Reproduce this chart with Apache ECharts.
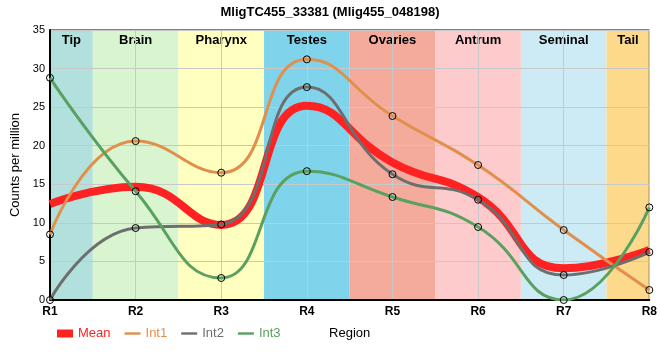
<!DOCTYPE html>
<html><head><meta charset="utf-8">
<script src="https://cdn.jsdelivr.net/npm/echarts@6/dist/echarts.min.js"></script>
<style>html,body{margin:0;padding:0;background:#fff}#c{width:660px;height:360px}</style>
</head><body><div id="c"></div>
<script>
var regions = ['R1','R2','R3','R4','R5','R6','R7','R8'];
var tissues = ['Tip','Brain','Pharynx','Testes','Ovaries','Antrum','Seminal','Tail'];
var tissueColors = ['#b2e0dd','#d9f5d0','#ffffbf','#7fd3ea','#f4ab9c','#fdcbcb','#cdebf4','#fdd98c'];
var int1 = [8.5, 20.6, 16.5, 31.2, 23.85, 17.5, 9.07, 1.3];
var int2 = [0, 9.33, 9.8, 27.6, 16.3, 13.0, 3.24, 6.2];
var int3 = [28.8, 14.1, 2.85, 16.7, 13.35, 9.46, 0, 12.0];
var meanVals = [12.43, 14.68, 9.72, 25.17, 17.83, 13.32, 4.1, 6.5];
var yTicks = [0, 35, 5];

function pts(arr){ return arr.map(function(v,i){ return [i+1, v]; }); }
var bands = tissues.map(function(t,i){
  return [{name:t, xAxis: Math.max(1, i+0.5), itemStyle:{color:tissueColors[i]}}, {xAxis: Math.min(8, i+1.5)}];
});
var chart = echarts.init(document.getElementById('c'));
var markerStyle = {color:'rgba(0,0,0,0)', borderColor:'#000', borderWidth:1};
var lineIcon = 'path://M0,0 L20,0 L20,3 L0,3 Z';
function legItem(name, col, icon){
  return {name:name, icon:icon, itemStyle:{color:col, borderWidth:0, borderColor:col}, lineStyle:{width:0}, textStyle:{color:col}};
}
chart.setOption({
  animation:false,
  title:{text:'MligTC455_33381 (Mlig455_048198)', left:'center', top:1,
    textStyle:{fontSize:13, fontWeight:'bold', color:'#000', fontFamily:'Liberation Sans'}},
  grid:{left:50, right:10, top:30, bottom:60, show:true, borderColor:'#000', borderWidth:1, backgroundColor:'transparent', z:1},
  legend:{left:52, top:322, itemGap:14, itemWidth:16, itemHeight:8,
    textStyle:{fontSize:13, fontFamily:'Liberation Sans'},
    data:[
      legItem('Mean', '#ff2222', 'rect'),
      legItem('Int1', '#e0904c', lineIcon),
      legItem('Int2', '#6e6e6e', lineIcon),
      legItem('Int3', '#5aa060', lineIcon)
    ]},
  xAxis:{type:'value', min:1, max:8, interval:1, z:1,
    name:'Region', nameLocation:'middle', nameGap:27,
    nameTextStyle:{fontSize:13, color:'#000', fontFamily:'Liberation Sans'},
    axisLine:{lineStyle:{color:'#000', width:2}},
    axisTick:{show:false},
    axisLabel:{formatter:function(v){return regions[v-1];}, fontSize:12, fontWeight:'bold', color:'#000', margin:6, fontFamily:'Liberation Sans'},
    splitLine:{show:true, lineStyle:{color:'#c8c8c8', width:1}}},
  yAxis:{type:'value', min:yTicks[0], max:yTicks[1], interval:yTicks[2], z:1,
    name:'Counts per million', nameLocation:'middle', nameGap:24,
    nameTextStyle:{fontSize:13, color:'#000', fontFamily:'Liberation Sans'},
    axisLine:{show:true, lineStyle:{color:'#000', width:2}},
    axisTick:{show:false},
    axisLabel:{fontSize:11, color:'#000', margin:5, fontFamily:'Liberation Sans'},
    splitLine:{show:true, lineStyle:{color:'#c8c8c8', width:1}}},
  series:[
    {name:'Bands', type:'line', data:[], z:0,
      markArea:{silent:true, z:0, label:{show:true, position:'insideTop', distance:4, fontSize:13, fontWeight:'bold', color:'#000', fontFamily:'Liberation Sans'},
        data:bands}},
    {name:'Mean', type:'line', smooth:0.5, showSymbol:false, data:pts(meanVals), z:3,
      lineStyle:{color:'#ff2222', width:8}, itemStyle:{color:'#ff2222'}},
    {name:'Int1', type:'line', smooth:0.5, data:pts(int1), z:4, symbol:'circle', symbolSize:7,
      lineStyle:{color:'#e0904c', width:3}, itemStyle:markerStyle},
    {name:'Int2', type:'line', smooth:0.5, data:pts(int2), z:4, symbol:'circle', symbolSize:7,
      lineStyle:{color:'#6e6e6e', width:3}, itemStyle:markerStyle},
    {name:'Int3', type:'line', smooth:0.5, data:pts(int3), z:4, symbol:'circle', symbolSize:7,
      lineStyle:{color:'#5aa060', width:3}, itemStyle:markerStyle}
  ]
});
</script></body></html>
